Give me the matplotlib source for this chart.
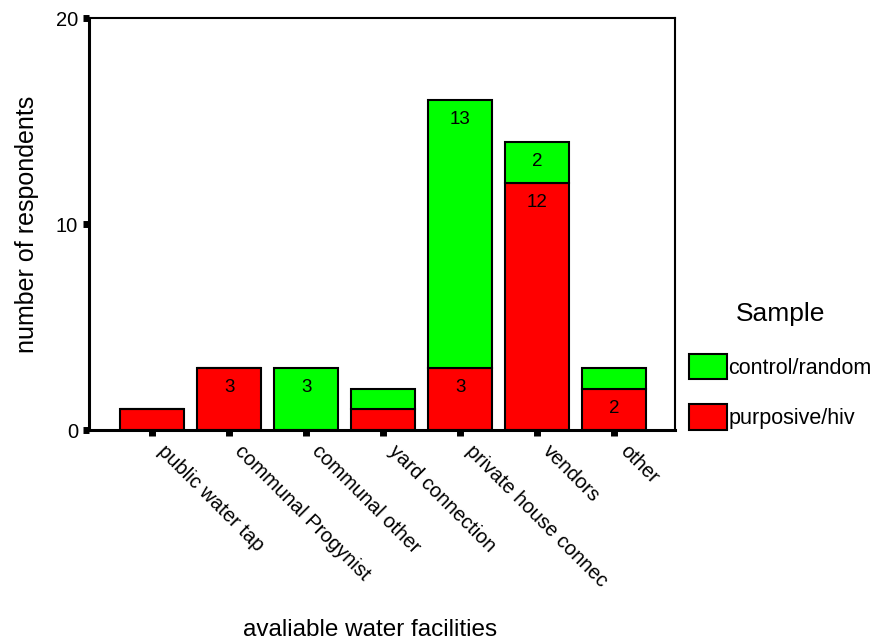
import matplotlib
matplotlib.use("Agg")
import matplotlib.pyplot as plt
from matplotlib.patches import Patch

plt.rcParams['font.family'] = ['Liberation Sans', 'DejaVu Sans']

categories = ["public water tap", "communal Progynist", "communal other",
              "yard connection", "private house connec", "vendors", "other"]
purposive = [1, 3, 0, 1, 3, 12, 2]
control = [0, 0, 3, 1, 13, 2, 1]
series_names = ["control/random", "purposive/hiv"]
green = "#00FF00"
red = "#FF0000"

fig = plt.figure(figsize=(8.75, 6.42), dpi=100)
ax = fig.add_axes([89/875, 1-430/642, (675-89)/875, (430-18)/642])

x = list(range(len(categories)))
w = 0.83
ax.bar(x, purposive, width=w, color=red, edgecolor="black", linewidth=1.5, zorder=2)
ax.bar(x, control, width=w, bottom=purposive, color=green, edgecolor="black", linewidth=1.5, zorder=2)

for i in x:
    if purposive[i] >= 2:
        ax.annotate(str(purposive[i]), (i, purposive[i]), xytext=(0, -14), textcoords="offset points",
                    ha="center", va="center", fontsize=13.5)
    if control[i] >= 2:
        top = purposive[i] + control[i]
        ax.annotate(str(control[i]), (i, top), xytext=(0, -14), textcoords="offset points",
                    ha="center", va="center", fontsize=13.5)

ax.set_xlim(-0.82, 6.79)
ax.set_ylim(0, 20)
ax.set_yticks([0, 10, 20])
ax.set_xticks(x)
ax.set_xticklabels([])
for i, name in zip(x, categories):
    ax.annotate(name, (i, 0), xycoords=("data", "axes fraction"), xytext=(11, -8),
                textcoords="offset points", rotation=-45, ha="left", va="top",
                rotation_mode="anchor", fontsize=14.5, annotation_clip=False)
ax.tick_params(axis="x", direction="out", length=4, width=5, pad=5)
ax.tick_params(axis="y", direction="out", length=4, width=5, labelsize=14.5, pad=4)
for s in ["left", "bottom"]:
    ax.spines[s].set_linewidth(2.2)
for s in ["top", "right"]:
    ax.spines[s].set_linewidth(1.5)

ax.set_ylabel("number of respondents", fontsize=18, labelpad=12)
fig.text(370/875, 1-630/642, "avaliable water facilities", ha="center", va="center", fontsize=17.5)

handles = [Patch(facecolor=green, edgecolor="black", linewidth=1.5),
           Patch(facecolor=red, edgecolor="black", linewidth=1.5)]
leg = fig.legend(handles, series_names, title="Sample", loc="upper left",
                 bbox_to_anchor=(689/875, 1-302/642), frameon=False, fontsize=15.5,
                 title_fontsize=19, handlelength=1.78, handleheight=1.45, handletextpad=0.05,
                 labelspacing=1.15, borderaxespad=0, borderpad=0)
leg._legend_box.sep = 20

fig.savefig("out.png", dpi=100)
